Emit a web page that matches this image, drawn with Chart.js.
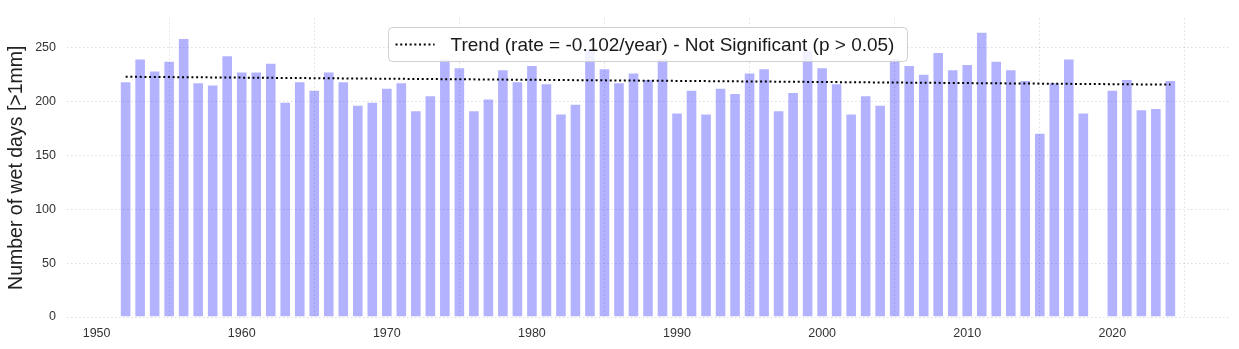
<!DOCTYPE html>
<html>
<head>
<meta charset="utf-8">
<script src="https://cdn.jsdelivr.net/npm/chart.js@4"></script>
<style>
  html, body { margin: 0; padding: 0; background: #fff; }
  #wrap { width: 1239px; height: 349px; }
</style>
</head>
<body>
<div id="wrap"><canvas id="wetChart" width="1239" height="349"></canvas></div>
<script>
// years with data (2019 missing)
const years = [
  1952,1953,1954,1955,1956,1957,1958,1959,1960,1961,1962,1963,1964,1965,1966,1967,1968,1969,
  1970,1971,1972,1973,1974,1975,1976,1977,1978,1979,1980,1981,1982,1983,1984,1985,1986,1987,
  1988,1989,1990,1991,1992,1993,1994,1995,1996,1997,1998,1999,2000,2001,2002,2003,2004,2005,
  2006,2007,2008,2009,2010,2011,2012,2013,2014,2015,2016,2017,2018,2020,2021,2022,2023,2024
];
const wetDays = [
  219,240,229,238,259,218,216,243,228,228,236,200,219,211,228,219,197,200,
  213,218,192,206,240,232,192,203,230,219,234,217,189,198,249,231,218,227,
  221,240,190,211,189,213,208,227,231,192,209,248,232,217,189,206,197,240,
  234,226,246,230,235,265,238,230,220,171,218,240,190,211,221,193,194,220
];
const trendYears = [1952, 2024];
const trendValues = [223.1, 215.8];
const xTicks = [1950, 1960, 1970, 1980, 1990, 2000, 2010, 2020];
const yTicks = [0, 50, 100, 150, 200, 250];
const trendLabel = 'Trend (rate = -0.102/year) - Not Significant (p > 0.05)';

const FONT = '"Liberation Sans", Arial, sans-serif';
const gridStyle = {
  color: 'rgba(0,0,0,0.16)',
  lineWidth: 0.8,
  drawTicks: false
};

// legend box drawn inside the plot, like matplotlib's
const boxLegend = {
  id: 'boxLegend',
  afterDraw(chart) {
    const ctx = chart.ctx;
    const area = chart.chartArea;
    ctx.save();
    ctx.font = '19px ' + FONT;
    const tw = ctx.measureText(trendLabel).width;
    const w = 7 + 39 + 16 + tw + 13;
    const h = 34;
    const x = (area.left + area.right) / 2 - w / 2;
    const y = area.top + 9;
    ctx.beginPath();
    ctx.roundRect(x, y, w, h, 4);
    ctx.fillStyle = 'rgba(255,255,255,0.82)';
    ctx.fill();
    ctx.strokeStyle = '#cfcfcf';
    ctx.lineWidth = 1;
    ctx.stroke();
    ctx.beginPath();
    ctx.setLineDash([2, 2.7]);
    ctx.lineWidth = 2;
    ctx.strokeStyle = '#000';
    ctx.moveTo(x + 7, y + h / 2);
    ctx.lineTo(x + 46, y + h / 2);
    ctx.stroke();
    ctx.setLineDash([]);
    ctx.fillStyle = '#1a1a1a';
    ctx.textBaseline = 'middle';
    ctx.fillText(trendLabel, x + 62, y + h / 2 + 1);
    ctx.restore();
  }
};

new Chart(document.getElementById('wetChart'), {
  type: 'bar',
  data: {
    datasets: [
      {
        type: 'line',
        label: trendLabel,
        data: trendYears.map((yr, i) => ({ x: yr, y: trendValues[i] })),
        borderColor: '#000',
        borderWidth: 2,
        borderDash: [2, 2.7],
        pointRadius: 0,
        fill: false,
        order: 1
      },
      {
        label: 'Wet days',
        data: years.map((yr, i) => ({ x: yr, y: wetDays[i] })),
        backgroundColor: 'rgba(0,0,255,0.3)',
        borderColor: 'rgba(255,255,255,0.3)',
        borderWidth: 1,
        barPercentage: 0.8,
        categoryPercentage: 1.0,
        order: 2
      }
    ]
  },
  options: {
    responsive: false,
    animation: false,
    layout: { padding: { top: 10, right: 10, left: 0, bottom: 0 } },
    plugins: {
      legend: { display: false },
      tooltip: { enabled: false }
    },
    scales: {
      x: {
        type: 'linear',
        min: 1947.96,
        max: 2028.04,
        offset: false,
        border: { display: false, dash: [1.5, 2.5] },
        grid: gridStyle,
        afterBuildTicks(scale) {
          scale.ticks = xTicks.map(v => ({ value: v }));
        },
        ticks: {
          padding: 9,
          color: '#333',
          font: { family: FONT, size: 12.5 },
          callback: v => String(v)
        },
        afterFit(scale) { scale.height = 32; }
      },
      y: {
        min: 0,
        max: 277.2,
        border: { display: false, dash: [1.5, 2.5] },
        grid: gridStyle,
        afterBuildTicks(scale) {
          scale.ticks = yTicks.map(v => ({ value: v }));
        },
        ticks: {
          padding: 11,
          color: '#333',
          font: { family: FONT, size: 12.5 }
        },
        title: {
          display: true,
          text: 'Number of wet days [>1mm]',
          color: '#222',
          font: { family: FONT, size: 19.5 },
          padding: { top: 5, bottom: 4 }
        },
        afterFit(scale) { scale.width = 67; }
      }
    }
  },
  plugins: [boxLegend]
});
</script>
</body>
</html>
